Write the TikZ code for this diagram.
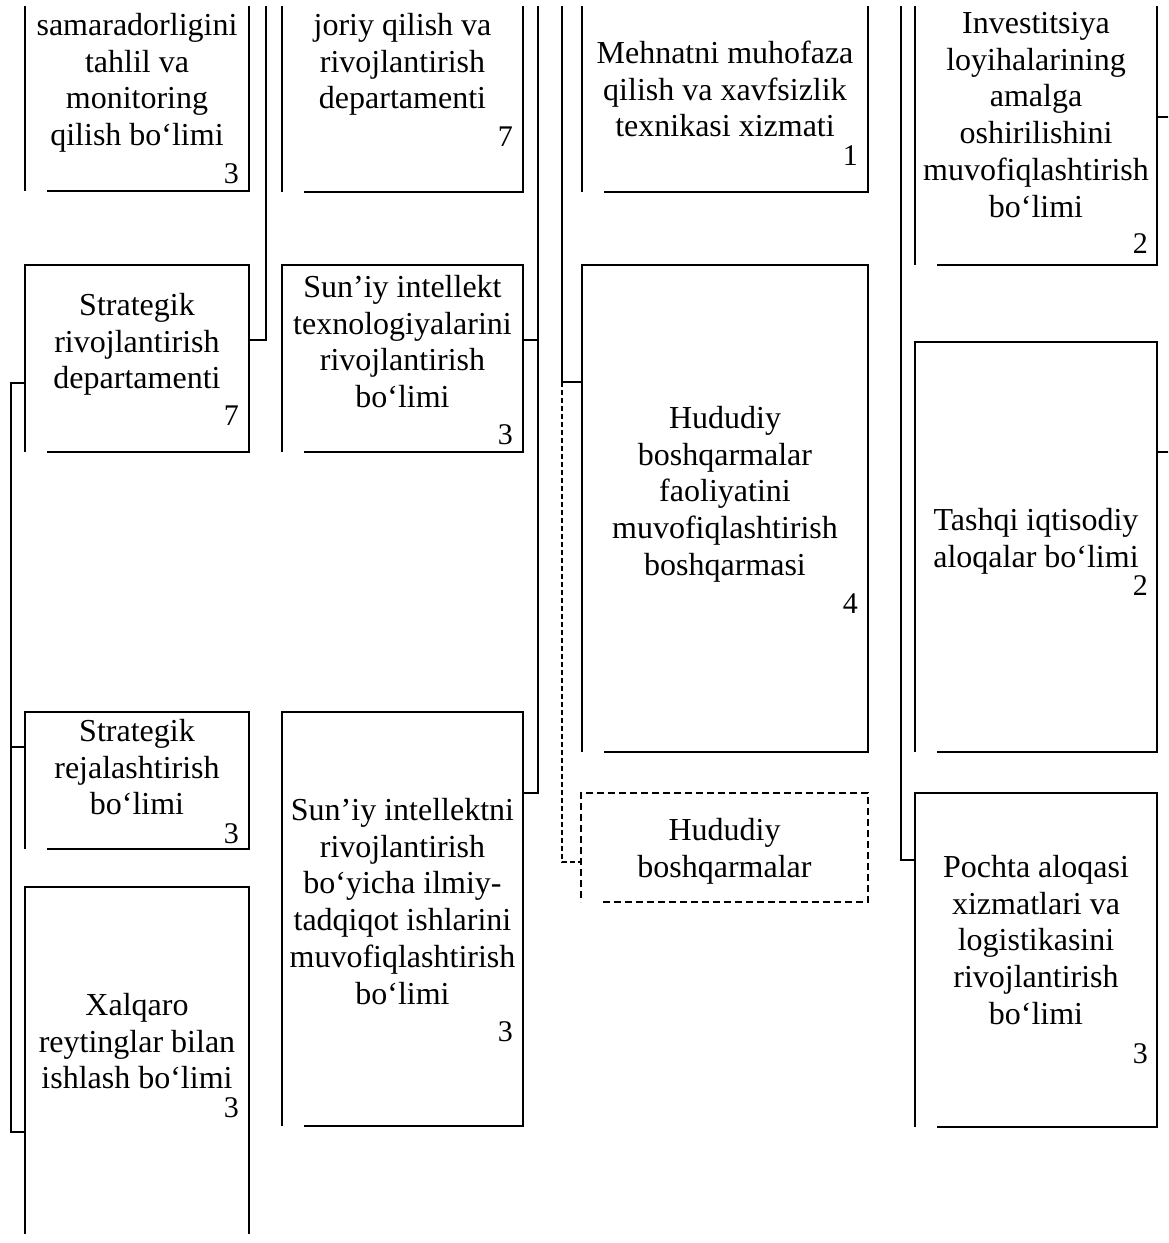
\documentclass[tikz,border=0pt]{standalone}
\usepackage{fontspec}
\setmainfont{Liberation Serif}
\newcommand\gapborder[2][]{\draw[boxline,#1] ([xshift=22pt]#2.south west) -- (#2.south east) -- (#2.north east) -- (#2.north west) -- (#2.south west);}
\begin{document}
\begin{tikzpicture}[x=1pt,y=-1pt,
  boxline/.style={line width=2.6pt, line join=miter},
  dashline/.style={line width=2pt, dash pattern=on 7pt off 4pt},
  conn/.style={line width=2.4pt},
  dconn/.style={line width=1.8pt, dash pattern=on 5pt off 3pt},
  box/.style={inner sep=0pt, outer sep=0pt, draw=none},
  txt/.style={align=center, inner sep=0pt, font=\fontsize{32}{36.8}\selectfont, anchor=north},
  num/.style={inner sep=0pt, anchor=base east, font=\fontsize{30}{34}\selectfont}]
\useasboundingbox (0,0) rectangle (1168,1243);
\begin{scope}
\clip (0,6) rectangle (1168,1233);
% boxes
\node[box, minimum width=224pt, minimum height=231pt] (A) at (137,75.5) {};
\node[box, minimum width=241pt, minimum height=232pt] (B) at (402.5,76) {};
\node[box, minimum width=286pt, minimum height=232pt] (E) at (725,76) {};
\node[box, minimum width=242pt, minimum height=305pt] (H) at (1036,112.5) {};
\node[box, minimum width=224pt, minimum height=187pt] (K) at (137,358.5) {};
\node[box, minimum width=241pt, minimum height=187pt] (C) at (402.5,358.5) {};
\node[box, minimum width=286pt, minimum height=487pt] (F) at (725,508.5) {};
\node[box, minimum width=242pt, minimum height=410pt] (I) at (1036,547) {};
\node[box, minimum width=224pt, minimum height=137pt] (L) at (137,780.5) {};
\node[box, minimum width=241pt, minimum height=414pt] (D) at (402.5,919) {};
\node[box, minimum width=287pt, minimum height=109pt] (G) at (724.5,847.5) {};
\node[box, minimum width=242pt, minimum height=334pt] (J) at (1036,960) {};
\node[box, minimum width=224pt, minimum height=393pt] (X) at (137,1083.5) {};
\gapborder{A}\gapborder{B}\gapborder{E}\gapborder{H}
\gapborder{K}\gapborder{C}\gapborder{F}\gapborder{I}
\gapborder{L}\gapborder{D}\gapborder[dashline]{G}\gapborder{J}\gapborder{X}
% texts
\node[txt] (tA) at (137,9.24) {\strut samaradorligini\\tahlil va\\monitoring\\qilish bo‘limi};
\node[num] (nA) at (239,183) {3};
\node[txt] (tB) at (402.5,9.24) {\strut joriy qilish va\\rivojlantirish\\departamenti};
\node[num] (nB) at (513,146) {7};
\node[txt] (tE) at (725,37.24) {\strut Mehnatni muhofaza\\qilish va xavfsizlik\\texnikasi xizmati};
\node[num] (nE) at (858,165) {1};
\node[txt] (tH) at (1036,7.24) {\strut Investitsiya\\loyihalarining\\amalga\\oshirilishini\\muvofiqlashtirish\\bo‘limi};
\node[num] (nH) at (1148,253) {2};
\node[txt] (tK) at (137,289.24) {\strut Strategik\\rivojlantirish\\departamenti};
\node[num] (nK) at (239,425) {7};
\node[txt] (tC) at (402.5,271.24) {\strut Sun’iy intellekt\\texnologiyalarini\\rivojlantirish\\bo‘limi};
\node[num] (nC) at (513,444) {3};
\node[txt] (tF) at (725,402.24) {\strut Hududiy\\boshqarmalar\\faoliyatini\\muvofiqlashtirish\\boshqarmasi};
\node[num] (nF) at (858,613) {4};
\node[txt] (tI) at (1036,504.24) {\strut Tashqi iqtisodiy\\aloqalar bo‘limi};
\node[num] (nI) at (1148,595) {2};
\node[txt] (tL) at (137,715.24) {\strut Strategik\\rejalashtirish\\bo‘limi};
\node[num] (nL) at (239,843) {3};
\node[txt] (tD) at (402.5,794.24) {\strut Sun’iy intellektni\\rivojlantirish\\bo‘yicha ilmiy-\\tadqiqot ishlarini\\muvofiqlashtirish\\bo‘limi};
\node[num] (nD) at (513,1041) {3};
\node[txt] (tG) at (724.5,814.24) {\strut Hududiy\\boshqarmalar};
\node[txt] (tJ) at (1036,851.24) {\strut Pochta aloqasi\\xizmatlari va\\logistikasini\\rivojlantirish\\bo‘limi};
\node[num] (nJ) at (1148,1063) {3};
\node[txt] (tX) at (137,989.24) {\strut Xalqaro\\reytinglar bilan\\ishlash bo‘limi};
\node[num] (nX) at (239,1117) {3};
% connectors
\coordinate (t1) at (266,-10); \coordinate (j1) at (266,340);
\draw[conn] (t1) -- (j1) -- (j1 -| K.east);
\coordinate (j2) at (11,383); \coordinate (j3) at (11,747); \coordinate (j4) at (11,1132);
\draw[conn] (j2 -| K.west) -- (j2) -- (j4) -- (j4 -| X.west);
\draw[conn] (j3) -- (j3 -| L.west);
\coordinate (t3) at (538,-10); \coordinate (j5) at (538,340); \coordinate (j6) at (538,793);
\draw[conn] (t3) -- (j6) -- (j6 -| D.east);
\draw[conn] (j5) -- (j5 -| C.east);
\coordinate (t4) at (562,-10); \coordinate (j7) at (562,382); \coordinate (j8) at (562,862);
\draw[conn] (t4) -- (j7) -- (j7 -| F.west);
\draw[dconn] (j7) -- (j8) -- (j8 -| G.west);
\coordinate (t5) at (901,-10); \coordinate (j9) at (901,860);
\draw[conn] (t5) -- (j9) -- (j9 -| J.west);
\coordinate (r1) at (1175,117); \draw[conn] (r1 -| H.east) -- (r1);
\coordinate (r2) at (1175,452); \draw[conn] (r2 -| I.east) -- (r2);
\end{scope}
\end{tikzpicture}
\end{document}
